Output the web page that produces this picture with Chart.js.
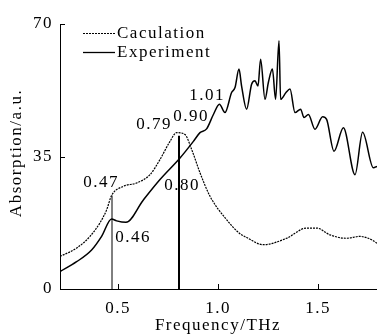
<html>
<head>
<script src="https://cdn.jsdelivr.net/npm/chart.js"></script>
<style>body{margin:0;background:#fff}</style>
</head>
<body>
<canvas id="graph" width="377" height="336"></canvas>
<script>
// Calculation curve (dashed)
const calcFreq = [0.21, 0.293, 0.36, 0.41, 0.443, 0.468, 0.525, 0.593, 0.66, 0.71, 0.76, 0.793, 0.835, 0.868, 0.91, 0.96, 1.043, 1.11, 1.143, 1.227, 1.343, 1.443, 1.493, 1.56, 1.643, 1.71, 1.768, 1.795];
const calcAbs  = [8.6, 10.8, 13.9, 17.5, 20.9, 24.7, 27.1, 28.0, 30.2, 34.2, 39.0, 41.3, 40.8, 36.9, 30.7, 24.5, 18.3, 14.6, 13.6, 11.7, 13.4, 16.1, 16.1, 14.3, 13.4, 13.9, 13.0, 12.1];
// Experiment curve (solid)
const expFreq = [0.21, 0.293, 0.368, 0.418, 0.468, 0.493, 0.54, 0.625, 0.71, 0.81, 0.877, 0.91, 0.943, 0.977, 1.007, 1.035, 1.068, 1.085, 1.105, 1.118, 1.143, 1.168, 1.185, 1.2, 1.213, 1.235, 1.252, 1.272, 1.288, 1.305, 1.313, 1.34, 1.36, 1.385, 1.413, 1.43, 1.452, 1.485, 1.523, 1.543, 1.58, 1.627, 1.685, 1.723, 1.777, 1.795];
const expAbs  = [4.6, 7.2, 10.3, 13.9, 18.5, 18.0, 17.6, 23.4, 28.9, 34.6, 39.0, 41.3, 42.3, 46.1, 48.8, 46.6, 51.9, 53.2, 58.1, 53.6, 47.5, 54.1, 55.0, 53.6, 60.7, 50.1, 54.6, 58.1, 50.1, 65.6, 50.1, 51.9, 52.8, 46.6, 47.5, 45.3, 46.1, 42.2, 45.5, 44.8, 36.4, 42.6, 30.2, 41.4, 32.0, 32.4];
// marker lines
const markFreq = [0.47, 0.805];
const markTop  = [24.7, 40.5];
// labels
const noteText = ['0.47', '0.46', '0.79', '0.90', '1.01', '0.80'];
const noteFreq = [0.415, 0.575, 0.68, 0.865, 0.945, 0.82];
const noteAbs  = [28.1, 13.6, 43.5, 45.6, 51.2, 27.3];

const xTicks = [0.5, 1.0, 1.5];
const yTicks = [0, 35, 70];

const FONT = '"Liberation Serif", serif';
const SPACING = '1.5px';

function pts(xs, ys) { return xs.map((x, i) => ({x: x, y: ys[i]})); }

const datasets = [
    {label: 'Caculation', data: pts(calcFreq, calcAbs), borderColor: '#000', borderWidth: 1.2, borderDash: [2, 1], cubicInterpolationMode: 'monotone'},
    {label: 'Experiment', data: pts(expFreq, expAbs), borderColor: '#000', borderWidth: 1.5, cubicInterpolationMode: 'monotone'},
];
markFreq.forEach((f, i) => {
    datasets.push({label: 'm' + i, data: [{x: f, y: 0}, {x: f, y: markTop[i]}], borderColor: '#000', borderWidth: i == 0 ? 1 : 2});
});

const decor = {
    id: 'decor',
    beforeDraw(chart) {
        chart.ctx.letterSpacing = SPACING;
    },
    beforeDatasetsDraw(chart) {
        const ctx = chart.ctx, xs = chart.scales.x, ys = chart.scales.y;
        ctx.save();
        ctx.fillStyle = '#000';
        ctx.font = '17px ' + FONT;
        ctx.textAlign = 'center';
        ctx.textBaseline = 'middle';
        noteText.forEach((t, i) => ctx.fillText(t, xs.getPixelForValue(noteFreq[i]), ys.getPixelForValue(noteAbs[i])));
        ctx.restore();
    },
    afterDraw(chart) {
        const ctx = chart.ctx, xs = chart.scales.x, ys = chart.scales.y, a = chart.chartArea;
        ctx.save();
        ctx.strokeStyle = '#000';
        ctx.lineWidth = 1;
        // inward ticks
        ctx.beginPath();
        xTicks.forEach(v => { const p = Math.round(xs.getPixelForValue(v)) + 0.5; ctx.moveTo(p, a.bottom); ctx.lineTo(p, a.bottom - 5); });
        yTicks.forEach(v => { const p = Math.round(ys.getPixelForValue(v)) + 0.5; ctx.moveTo(a.left, p); ctx.lineTo(a.left + 5, p); });
        ctx.stroke();
        // legend
        ctx.fillStyle = '#000';
        ctx.font = '17px ' + FONT;
        ctx.textBaseline = 'middle';
        ctx.textAlign = 'left';
        ctx.lineWidth = 1.2;
        ctx.setLineDash([2, 1]);
        ctx.beginPath(); ctx.moveTo(83, 33.5); ctx.lineTo(115, 33.5); ctx.stroke();
        ctx.setLineDash([]);
        ctx.lineWidth = 1.3;
        ctx.beginPath(); ctx.moveTo(83, 52.5); ctx.lineTo(115, 52.5); ctx.stroke();
        ctx.fillText('Caculation', 117, 34);
        ctx.fillText('Experiment', 117, 53);
        // axis titles
        ctx.textAlign = 'center';
        ctx.fillText('Frequency/THz', 218, 326);
        ctx.translate(17, 153);
        ctx.rotate(-Math.PI / 2);
        ctx.fillText('Absorption/a.u.', 0, 0);
        ctx.restore();
    }
};

new Chart(document.getElementById('graph'), {
    type: 'line',
    data: {datasets: datasets},
    options: {
        responsive: false,
        animation: false,
        devicePixelRatio: 1,
        layout: {padding: {top: 24, right: 0, left: 0, bottom: 0}},
        elements: {point: {radius: 0}, line: {tension: 0}},
        plugins: {legend: {display: false}, tooltip: {enabled: false}},
        scales: {
            x: {
                type: 'linear', min: 0.21, max: 1.795,
                afterFit(s) { s.height = 47; },
                afterBuildTicks(s) { s.ticks = xTicks.map(v => ({value: v})); },
                grid: {display: false, drawTicks: false},
                border: {display: true, color: '#000', width: 1},
                ticks: {color: '#000', padding: 9, maxRotation: 0, font: {family: FONT, size: 17}, callback: v => v.toFixed(1)}
            },
            y: {
                type: 'linear', min: 0, max: 70,
                afterFit(s) { s.width = 60; },
                afterBuildTicks(s) { s.ticks = yTicks.map(v => ({value: v})); },
                grid: {display: false, drawTicks: false},
                border: {display: true, color: '#000', width: 1},
                ticks: {color: '#000', padding: 7, font: {family: FONT, size: 17}}
            }
        }
    },
    plugins: [decor]
});
</script>
</body>
</html>
